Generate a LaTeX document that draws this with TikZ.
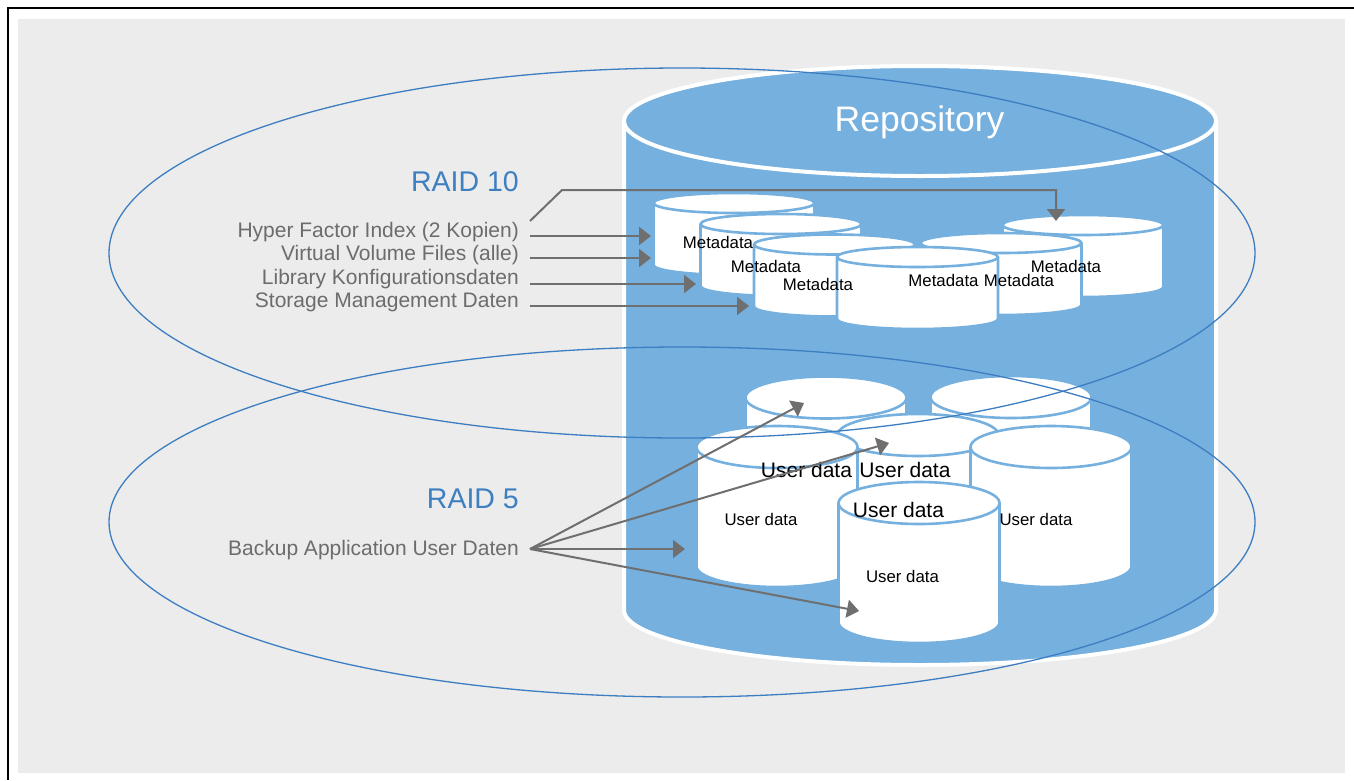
\documentclass[tikz,border=0pt]{standalone}
\usepackage{fontspec}
\setmainfont{Liberation Sans}
\usetikzlibrary{arrows.meta}

\definecolor{repoblue}{RGB}{117,176,222}
\definecolor{panelgray}{RGB}{235,236,235}
\definecolor{raidline}{RGB}{61,125,194}
\definecolor{raidtext}{RGB}{61,127,193}
\definecolor{arrowgray}{RGB}{111,111,111}
\definecolor{labelgray}{RGB}{108,108,108}

\tikzset{
  % drum: origin = centre of the top ellipse; args: x radius, y radius, body height, fill, outline
  pics/drum/.style n args={5}{code={
    \path[fill=#4] (-#1,0) -- (-#1,#3)
      arc[start angle=180,end angle=0,x radius=#1,y radius=#2]
      -- (#1,0) arc[start angle=0,end angle=-180,x radius=#1,y radius=#2] -- cycle;
    \draw[draw=#5,line join=round] (-#1,0) -- (-#1,#3)
      arc[start angle=180,end angle=0,x radius=#1,y radius=#2]
      -- (#1,0) arc[start angle=0,end angle=-180,x radius=#1,y radius=#2] -- cycle;
    \draw[draw=#5] (-#1,0) arc[start angle=180,end angle=0,x radius=#1,y radius=#2];
  }},
  disk/.style={line width=2.6pt},
  repoline/.style={line width=4pt},
  raid/.style={draw=raidline,line width=1.3pt},
  feed/.style={draw=arrowgray,line width=2pt,-{Triangle[length=12pt,width=18pt]}},
  raidlabel/.style={text=raidtext,font=\fontsize{28.5}{32}\selectfont,anchor=base east,inner sep=0pt},
  datalabel/.style={text=labelgray,font=\fontsize{21}{24}\selectfont,anchor=base east,inner sep=0pt},
  metalabel/.style={text=black,font=\fontsize{16.8}{19}\selectfont,inner sep=0pt},
  userlabel/.style={text=black,font=\fontsize{16.8}{19}\selectfont,inner sep=0pt},
  userbig/.style={text=black,font=\fontsize{21}{24}\selectfont,inner sep=0pt},
}

\begin{document}
\begin{tikzpicture}[x=1pt,y=-1pt]
\useasboundingbox (0,0) rectangle (1354,780);

% panel and frame
\fill[white] (0,0) rectangle (1354,780);
\fill[panelgray] (18,19) rectangle (1345,773);
\draw[black,line width=1.5pt] (8,780) -- (8,8) -- (1354,8);

% repository drum
\path[repoline] (920,121) pic {drum={296}{55}{489}{repoblue}{white}};
\node[text=white,font=\fontsize{35.5}{40}\selectfont,anchor=base,inner sep=0pt] (repo) at (919.5,131) {Repository};

% metadata drums, back to front
\path[disk] (734,203)   pic {drum={80.5}{10}{62}{white}{repoblue}};
\path[disk] (781,224)   pic {drum={80.5}{10}{62}{white}{repoblue}};
\path[disk] (834.5,244.5) pic {drum={80.5}{10}{62}{white}{repoblue}};
\path[disk] (1083,225)  pic {drum={80.5}{10}{62}{white}{repoblue}};
\path[disk] (1001,243)  pic {drum={80.5}{10}{62}{white}{repoblue}};
\path[disk] (917.5,257) pic {drum={80.5}{10}{62}{white}{repoblue}};

% user data drums, back to front
\path[disk] (826,397.5) pic {drum={80.5}{21}{119}{white}{repoblue}};
\path[disk] (1011,397)  pic {drum={80.5}{21}{119}{white}{repoblue}};
\path[disk] (918,435)   pic {drum={80.5}{21}{119}{white}{repoblue}};
\path[disk] (777,447)   pic {drum={80.5}{21}{119}{white}{repoblue}};
\path[disk] (1051,447)  pic {drum={80.5}{21}{119}{white}{repoblue}};
\path[disk] (919,503)   pic {drum={80.5}{21}{119}{white}{repoblue}};

% drum labels
\node[metalabel] (m1) at (718,242) {Metadata};
\node[metalabel] (m2) at (766,266) {Metadata};
\node[metalabel] (m3) at (818,284) {Metadata};
\node[metalabel] (m4) at (1066,266) {Metadata};
\node[metalabel] (m5) at (1019,280) {Metadata};
\node[metalabel] (m6) at (943.5,280) {Metadata};

\node[userbig] (u1) at (806.5,470) {User data};
\node[userbig] (u2) at (905,470) {User data};
\node[userbig] (u3) at (898.5,510) {User data};
\node[userlabel] (u4) at (761,519) {User data};
\node[userlabel] (u5) at (1036,519) {User data};
\node[userlabel] (u6) at (902.5,576) {User data};

% RAID groups
\draw[raid] (682,253) ellipse [x radius=573, y radius=185];
\draw[raid] (682,522) ellipse [x radius=573, y radius=175];

\node[raidlabel] (r10) at (519,191) {RAID 10};
\node[raidlabel] (r5) at (519,508) {RAID 5};

\node[datalabel] (hfi) at (519,237) {Hyper Factor Index (2 Kopien)};
\node[datalabel] (vvf) at (519,260) {Virtual Volume Files (alle)};
\node[datalabel] (lib) at (519,284) {Library Konfigurationsdaten};
\node[datalabel] (smd) at (519,307) {Storage Management Daten};
\node[datalabel] (bau) at (519,555) {Backup Application User Daten};

% connector end points
\coordinate (hfiA) at (530,221);
\coordinate (hfiB) at (530,236);
\coordinate (vvfA) at (530,258);
\coordinate (libA) at (530,284);
\coordinate (smdA) at (530,306);
\coordinate (bauA) at (530,549);
\coordinate (bend1) at (562,190);
\coordinate (bend2) at (1056,190);
\coordinate (tM4) at (1056,221);
\coordinate (tM1a) at (651,236);
\coordinate (tM1b) at (651,258);
\coordinate (tM2) at (696,284);
\coordinate (tM3) at (749,306);
\coordinate (tU1) at (804,403);
\coordinate (tU3) at (889,443);
\coordinate (tU4) at (685,549);
\coordinate (tU6) at (859,611);

% connectors
\draw[feed,line join=miter] (hfiA) -- (bend1) -- (bend2) -- (tM4);
\draw[feed] (hfiB) -- (tM1a);
\draw[feed] (vvfA) -- (tM1b);
\draw[feed] (libA) -- (tM2);
\draw[feed] (smdA) -- (tM3);
\draw[feed] (bauA) -- (tU1);
\draw[feed] (bauA) -- (tU3);
\draw[feed] (bauA) -- (tU4);
\draw[feed] (bauA) -- (tU6);
\end{tikzpicture}
\end{document}
